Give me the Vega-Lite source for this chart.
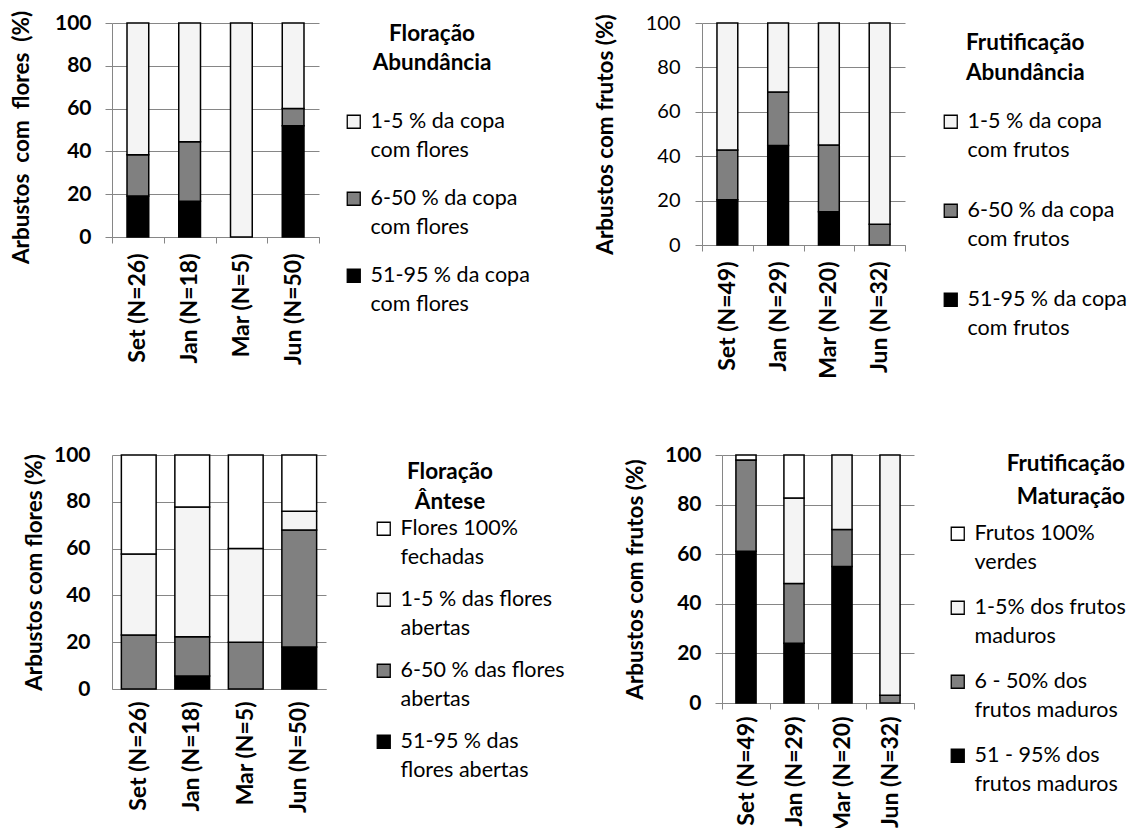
{
  "$schema": "https://vega.github.io/schema/vega-lite/v6.json",
  "background": "white",
  "padding": {"left": 10, "top": 10, "right": 5, "bottom": 5},
  "bounds": "flush",
  "spacing": 432,
  "config": {
    "font": "Lato",
    "view": {"stroke": null},
    "axis": {"domainColor": "#868686", "gridColor": "#868686", "tickColor": "#868686", "labelColor": "black", "titleColor": "black", "labelFont": "Lato", "titleFont": "Lato", "labelFontSize": 21, "titleFontSize": 22.5, "labelFontWeight": "bold", "titleFontWeight": "bold"},
    "axisX": {"labelFontSize": 23},
    "legend": {"orient": "none", "symbolType": "square", "symbolSize": 169, "symbolStrokeColor": "black", "symbolStrokeWidth": 1.3, "labelFont": "Lato", "labelFontSize": 21.5, "labelColor": "black", "labelOffset": 6, "labelLimit": 400},
    "style": {"guide-label": {"lineHeight": 29}},
    "title": {"font": "Lato", "fontSize": 22.5, "fontWeight": "bold", "color": "black"}
  },
  "resolve": {"scale": {"color": "independent", "x": "independent", "y": "independent"}},
  "vconcat": [
    {
      "bounds": "flush",
      "spacing": 383,
      "resolve": {"scale": {"color": "independent", "x": "independent", "y": "independent"}},
      "hconcat": [
        {
          "width": 207, "height": 214,
          "title": {"text": ["Floração", "Abundância"], "anchor": "start", "frame": "group", "align": "center", "dx": 320, "dy": 64, "offset": 0, "lineHeight": 29},
          "data": {"values": [
            {"mes": "Set (N=26)", "classe": "51-95 % da copa com flores", "ordem": 1, "pct": 19.2},
            {"mes": "Set (N=26)", "classe": "6-50 % da copa com flores", "ordem": 2, "pct": 19.2},
            {"mes": "Set (N=26)", "classe": "1-5 % da copa com flores", "ordem": 3, "pct": 61.6},
            {"mes": "Jan (N=18)", "classe": "51-95 % da copa com flores", "ordem": 1, "pct": 16.7},
            {"mes": "Jan (N=18)", "classe": "6-50 % da copa com flores", "ordem": 2, "pct": 27.8},
            {"mes": "Jan (N=18)", "classe": "1-5 % da copa com flores", "ordem": 3, "pct": 55.5},
            {"mes": "Mar (N=5)", "classe": "1-5 % da copa com flores", "ordem": 3, "pct": 100},
            {"mes": "Jun (N=50)", "classe": "51-95 % da copa com flores", "ordem": 1, "pct": 52},
            {"mes": "Jun (N=50)", "classe": "6-50 % da copa com flores", "ordem": 2, "pct": 8},
            {"mes": "Jun (N=50)", "classe": "1-5 % da copa com flores", "ordem": 3, "pct": 40}
          ]},
          "mark": {"type": "bar", "width": {"band": 0.42}, "stroke": "black", "strokeWidth": 1.5},
          "encoding": {
            "x": {"field": "mes", "type": "nominal", "sort": null, "scale": {"paddingInner": 0, "paddingOuter": 0},
                  "axis": {"title": null, "labelAngle": -90, "tickBand": "extent", "tickSize": 6, "labelPadding": 10, "grid": false}},
            "y": {"field": "pct", "type": "quantitative", "stack": "zero", "scale": {"domain": [0, 100]},
                  "axis": {"title": "Arbustos\u00a0 com\u00a0 flores\u00a0 (%)", "titleY": 114, "values": [0, 20, 40, 60, 80, 100], "tickSize": 7, "labelPadding": 14, "titlePadding": 21, "grid": true}},
            "color": {"field": "classe", "type": "nominal",
                      "scale": {"domain": ["1-5 % da copa com flores", "6-50 % da copa com flores", "51-95 % da copa com flores"], "range": ["#f4f4f4", "#808080", "#000000"]},
                      "legend": {"title": null, "legendX": 231, "legendY": 88, "rowPadding": 25, "labelExpr": "split(replace(datum.label, ' com ', '|com '), '|')"}},
            "order": {"field": "ordem", "type": "quantitative"}
          }
        },
        {
          "width": 203, "height": 222,
          "title": {"text": ["Frutificação", "Abundância"], "anchor": "start", "frame": "group", "align": "left", "dx": 264, "dy": 71, "offset": 0, "lineHeight": 30},
          "data": {"values": [
            {"mes": "Set (N=49)", "classe": "51-95 % da copa com frutos", "ordem": 1, "pct": 20.4},
            {"mes": "Set (N=49)", "classe": "6-50 % da copa com frutos", "ordem": 2, "pct": 22.4},
            {"mes": "Set (N=49)", "classe": "1-5 % da copa com frutos", "ordem": 3, "pct": 57.2},
            {"mes": "Jan (N=29)", "classe": "51-95 % da copa com frutos", "ordem": 1, "pct": 44.8},
            {"mes": "Jan (N=29)", "classe": "6-50 % da copa com frutos", "ordem": 2, "pct": 24.1},
            {"mes": "Jan (N=29)", "classe": "1-5 % da copa com frutos", "ordem": 3, "pct": 31.1},
            {"mes": "Mar (N=20)", "classe": "51-95 % da copa com frutos", "ordem": 1, "pct": 15},
            {"mes": "Mar (N=20)", "classe": "6-50 % da copa com frutos", "ordem": 2, "pct": 30},
            {"mes": "Mar (N=20)", "classe": "1-5 % da copa com frutos", "ordem": 3, "pct": 55},
            {"mes": "Jun (N=32)", "classe": "6-50 % da copa com frutos", "ordem": 2, "pct": 9.4},
            {"mes": "Jun (N=32)", "classe": "1-5 % da copa com frutos", "ordem": 3, "pct": 90.6}
          ]},
          "mark": {"type": "bar", "width": {"band": 0.41}, "stroke": "black", "strokeWidth": 1.5},
          "encoding": {
            "x": {"field": "mes", "type": "nominal", "sort": null, "scale": {"paddingInner": 0, "paddingOuter": 0},
                  "axis": {"title": null, "labelAngle": -90, "tickBand": "extent", "tickSize": 6, "labelPadding": 10, "grid": false}},
            "y": {"field": "pct", "type": "quantitative", "stack": "zero", "scale": {"domain": [0, 100]},
                  "axis": {"title": "Arbustos com frutos (%)", "values": [0, 20, 40, 60, 80, 100], "tickSize": 7, "labelPadding": 15, "labelFontSize": 20, "labelFontWeight": "normal", "titlePadding": 28, "grid": true}},
            "color": {"field": "classe", "type": "nominal",
                      "scale": {"domain": ["1-5 % da copa com frutos", "6-50 % da copa com frutos", "51-95 % da copa com frutos"], "range": ["#f4f4f4", "#808080", "#000000"]},
                      "legend": {"title": null, "legendX": 238, "legendY": 88, "rowPadding": 37, "labelExpr": "split(replace(datum.label, ' com ', '|com '), '|')"}},
            "order": {"field": "ordem", "type": "quantitative"}
          }
        }
      ]
    },
    {
      "bounds": "flush",
      "spacing": 396,
      "resolve": {"scale": {"color": "independent", "x": "independent", "y": "independent"}},
      "hconcat": [
        {
          "width": 214, "height": 234,
          "title": {"text": ["Floração", "Ântese"], "anchor": "start", "frame": "group", "align": "center", "dx": 338, "dy": 69, "offset": 0, "lineHeight": 30},
          "data": {"values": [
            {"mes": "Set (N=26)", "classe": "6-50 % das flores abertas", "ordem": 2, "pct": 23.1},
            {"mes": "Set (N=26)", "classe": "1-5 % das flores abertas", "ordem": 3, "pct": 34.6},
            {"mes": "Set (N=26)", "classe": "Flores 100% fechadas", "ordem": 4, "pct": 42.3},
            {"mes": "Jan (N=18)", "classe": "51-95 % das flores abertas", "ordem": 1, "pct": 5.6},
            {"mes": "Jan (N=18)", "classe": "6-50 % das flores abertas", "ordem": 2, "pct": 16.7},
            {"mes": "Jan (N=18)", "classe": "1-5 % das flores abertas", "ordem": 3, "pct": 55.5},
            {"mes": "Jan (N=18)", "classe": "Flores 100% fechadas", "ordem": 4, "pct": 22.2},
            {"mes": "Mar (N=5)", "classe": "6-50 % das flores abertas", "ordem": 2, "pct": 20},
            {"mes": "Mar (N=5)", "classe": "1-5 % das flores abertas", "ordem": 3, "pct": 40},
            {"mes": "Mar (N=5)", "classe": "Flores 100% fechadas", "ordem": 4, "pct": 40},
            {"mes": "Jun (N=50)", "classe": "51-95 % das flores abertas", "ordem": 1, "pct": 18},
            {"mes": "Jun (N=50)", "classe": "6-50 % das flores abertas", "ordem": 2, "pct": 50},
            {"mes": "Jun (N=50)", "classe": "1-5 % das flores abertas", "ordem": 3, "pct": 8},
            {"mes": "Jun (N=50)", "classe": "Flores 100% fechadas", "ordem": 4, "pct": 24}
          ]},
          "mark": {"type": "bar", "width": {"band": 0.65}, "stroke": "black", "strokeWidth": 1.5},
          "encoding": {
            "x": {"field": "mes", "type": "nominal", "sort": null, "scale": {"paddingInner": 0, "paddingOuter": 0},
                  "axis": {"title": null, "labelAngle": -90, "ticks": false, "tickSize": 0, "labelPadding": 12, "grid": false}},
            "y": {"field": "pct", "type": "quantitative", "stack": "zero", "scale": {"domain": [0, 100]},
                  "axis": {"title": "Arbustos com flores (%)", "values": [0, 20, 40, 60, 80, 100], "ticks": false, "tickSize": 0, "labelPadding": 22, "titlePadding": 7, "grid": true}},
            "color": {"field": "classe", "type": "nominal",
                      "scale": {"domain": ["Flores 100% fechadas", "1-5 % das flores abertas", "6-50 % das flores abertas", "51-95 % das flores abertas"], "range": ["#ffffff", "#f4f4f4", "#808080", "#000000"]},
                      "legend": {"title": null, "legendX": 261, "legendY": 63, "rowPadding": 19, "labelExpr": "datum.label == '51-95 % das flores abertas' ? ['51-95 % das', 'flores abertas'] : split(replace(replace(datum.label, ' fechadas', '|fechadas'), ' abertas', '|abertas'), '|')"}},
            "order": {"field": "ordem", "type": "quantitative"}
          }
        },
        {
          "width": 192, "height": 248,
          "title": {"text": ["Frutificação", "Maturação"], "anchor": "start", "frame": "group", "align": "right", "dx": 403, "dy": 64, "offset": 0, "lineHeight": 33},
          "data": {"values": [
            {"mes": "Set (N=49)", "classe": "51 - 95% dos frutos maduros", "ordem": 1, "pct": 61.2},
            {"mes": "Set (N=49)", "classe": "6 - 50% dos frutos maduros", "ordem": 2, "pct": 36.8},
            {"mes": "Set (N=49)", "classe": "Frutos 100% verdes", "ordem": 4, "pct": 2.0},
            {"mes": "Jan (N=29)", "classe": "51 - 95% dos frutos maduros", "ordem": 1, "pct": 24.1},
            {"mes": "Jan (N=29)", "classe": "6 - 50% dos frutos maduros", "ordem": 2, "pct": 24.1},
            {"mes": "Jan (N=29)", "classe": "1-5% dos frutos maduros", "ordem": 3, "pct": 34.5},
            {"mes": "Jan (N=29)", "classe": "Frutos 100% verdes", "ordem": 4, "pct": 17.3},
            {"mes": "Mar (N=20)", "classe": "51 - 95% dos frutos maduros", "ordem": 1, "pct": 55},
            {"mes": "Mar (N=20)", "classe": "6 - 50% dos frutos maduros", "ordem": 2, "pct": 15},
            {"mes": "Mar (N=20)", "classe": "1-5% dos frutos maduros", "ordem": 3, "pct": 30},
            {"mes": "Jun (N=32)", "classe": "6 - 50% dos frutos maduros", "ordem": 2, "pct": 3.1},
            {"mes": "Jun (N=32)", "classe": "1-5% dos frutos maduros", "ordem": 3, "pct": 96.9}
          ]},
          "mark": {"type": "bar", "width": {"band": 0.42}, "stroke": "black", "strokeWidth": 1.5},
          "encoding": {
            "x": {"field": "mes", "type": "nominal", "sort": null, "scale": {"paddingInner": 0, "paddingOuter": 0},
                  "axis": {"title": null, "labelAngle": -90, "tickBand": "extent", "tickSize": 6, "labelPadding": 7, "grid": false}},
            "y": {"field": "pct", "type": "quantitative", "stack": "zero", "scale": {"domain": [0, 100]},
                  "axis": {"title": "Arbustos com frutos (%)", "values": [0, 20, 40, 60, 80, 100], "tickSize": 7, "labelPadding": 14, "titlePadding": 17, "grid": true}},
            "color": {"field": "classe", "type": "nominal",
                      "scale": {"domain": ["Frutos 100% verdes", "1-5% dos frutos maduros", "6 - 50% dos frutos maduros", "51 - 95% dos frutos maduros"], "range": ["#ffffff", "#f4f4f4", "#808080", "#000000"]},
                      "legend": {"title": null, "legendX": 225, "legendY": 68, "rowPadding": 22, "labelExpr": "datum.label == 'Frutos 100% verdes' ? ['Frutos 100%', 'verdes'] : datum.label == '1-5% dos frutos maduros' ? ['1-5% dos frutos', 'maduros'] : split(replace(datum.label, ' frutos', '|frutos'), '|')"}},
            "order": {"field": "ordem", "type": "quantitative"}
          }
        }
      ]
    }
  ]
}
